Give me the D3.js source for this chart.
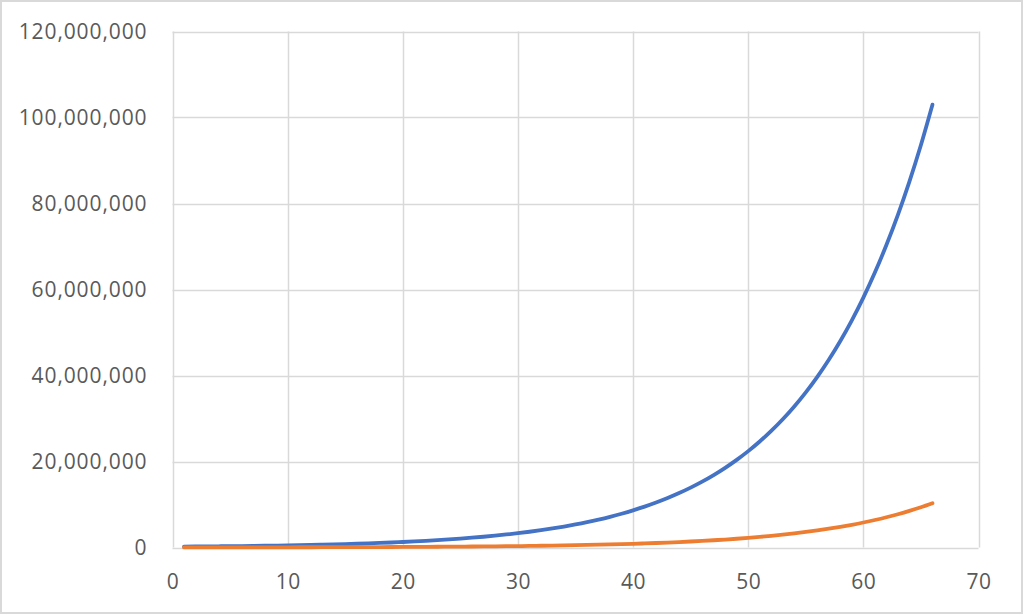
<!DOCTYPE html>
<html>
<head>
<meta charset="utf-8">
<script src="https://cdn.jsdelivr.net/npm/d3@7/dist/d3.min.js"></script>
<style>
  html, body { margin: 0; padding: 0; background: #fff; }
  svg { display: block; }
  text { font-family: "Open Sans", sans-serif; fill: #595959; }
</style>
</head>
<body>
<svg id="chart" width="1024" height="615"></svg>
<script>
// ---- data ----
const xValues = [1,2,3,4,5,6,7,8,9,10,11,12,13,14,15,16,17,18,19,20,21,22,23,24,25,26,27,28,29,30,31,32,33,34,35,36,37,38,39,40,41,42,43,44,45,46,47,48,49,50,51,52,53,54,55,56,57,58,59,60,61,62,63,64,65,66];
const blueValues = [210000,231000,254000,280000,307000,338000,372000,409000,450000,495000,545000,599000,659000,725000,797000,877000,965000,1061000,1168000,1284000,1413000,1554000,1709000,1880000,2068000,2275000,2503000,2753000,3028000,3331000,3664000,4031000,4434000,4877000,5365000,5902000,6492000,7141000,7855000,8640000,9504000,10455000,11500000,12650000,13915000,15307000,16838000,18521000,20374000,22411000,24652000,27117000,29829000,32812000,36093000,39702000,43673000,48040000,52844000,58128000,63941000,70335000,77369000,85106000,93616000,102978000];
const orangeValues = [21000,23100,25400,28000,30700,33800,37200,40900,45000,49500,54500,59900,65900,72500,79700,87700,96500,106100,116800,128400,141300,155400,170900,188000,206800,227500,250300,275300,302800,333100,366400,403100,443400,487700,536500,590200,649200,714100,785500,864000,950400,1045500,1150000,1265000,1391500,1530700,1683800,1852100,2037400,2241100,2465200,2711700,2982900,3281200,3609300,3970200,4367300,4804000,5284400,5812800,6394100,7033500,7736900,8510600,9361600,10297800];
const xTicks = [0,10,20,30,40,50,60,70];
const yTicks = [0,20000000,40000000,60000000,80000000,100000000,120000000];

const svg = d3.select("#chart");

// outer frame
svg.append("rect")
  .attr("x", 1).attr("y", 1).attr("width", 1021).attr("height", 612)
  .attr("fill", "#fff").attr("stroke", "#d9d9d9").attr("stroke-width", 2);

const x = d3.scaleLinear().domain([0, 70]).range([172.5, 978.5]);
const y = d3.scaleLinear().domain([0, 120000000]).range([547.5, 31.5]);

// gridlines
const grid = svg.append("g");
grid.selectAll("line.h").data(yTicks).join("line")
  .attr("class", "h")
  .attr("x1", x(0)).attr("x2", x(70))
  .attr("y1", d => Math.round(y(d)) + 0.5).attr("y2", d => Math.round(y(d)) + 0.5)
  .attr("stroke", "#d9d9d9").attr("stroke-width", 1.5);
grid.selectAll("line.v").data(xTicks).join("line")
  .attr("class", "v")
  .attr("y1", y(0)).attr("y2", y(120000000))
  .attr("x1", d => Math.round(x(d)) + 0.5).attr("x2", d => Math.round(x(d)) + 0.5)
  .attr("stroke", "#d9d9d9").attr("stroke-width", 1.5);

// axes labels via d3 axes (no domain / ticks lines)
const fmt = d3.format(",");
const yAxis = svg.append("g")
  .attr("transform", `translate(${x(0)},0)`)
  .call(d3.axisLeft(y).tickValues(yTicks).tickFormat(fmt).tickSize(0).tickPadding(25));
yAxis.select(".domain").remove();
yAxis.selectAll("text")
  .attr("font-family", "Open Sans, sans-serif")
  .attr("font-size", 21)
  .attr("letter-spacing", "0.9px")
  .attr("fill", "#595959")
  .attr("dy", "0.33em");

const xAxis = svg.append("g")
  .attr("transform", `translate(0,${y(0)})`)
  .call(d3.axisBottom(x).tickValues(xTicks).tickFormat(d3.format("d")).tickSize(0).tickPadding(27));
xAxis.select(".domain").remove();
xAxis.selectAll("text")
  .attr("font-family", "Open Sans, sans-serif")
  .attr("font-size", 21)
  .attr("letter-spacing", "0.5px")
  .attr("fill", "#595959")
  .attr("dy", "0.71em");

// lines
const line = d3.line().curve(d3.curveMonotoneX);
const series = [
  { values: blueValues, color: "#4472C4" },
  { values: orangeValues, color: "#ED7D31" }
];
svg.append("g").selectAll("path").data(series).join("path")
  .attr("d", s => line(xValues.map((xv, i) => [x(xv), y(s.values[i])])))
  .attr("fill", "none")
  .attr("stroke", s => s.color)
  .attr("stroke-width", 3.8)
  .attr("stroke-linecap", "round")
  .attr("stroke-linejoin", "round");
</script>
</body>
</html>
